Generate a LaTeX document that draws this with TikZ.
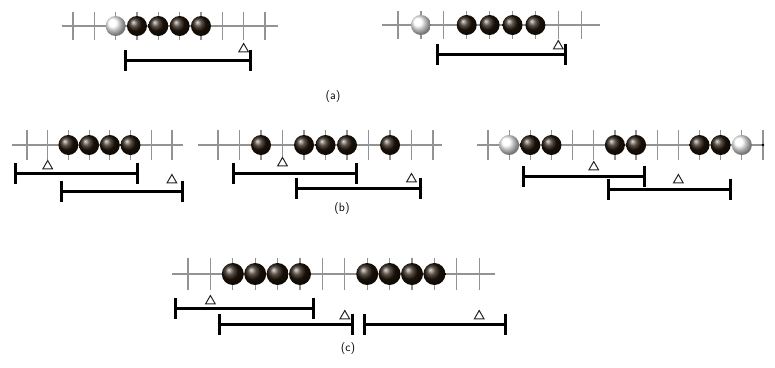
\documentclass[tikz,border=0pt]{standalone}
\usetikzlibrary{shapes.geometric, arrows.meta}

\begin{document}
\begin{tikzpicture}[x=1pt,y=-1pt,
      board/.style={draw=gray!85, line width=1.1pt},
      tick/.style={draw=gray!85, line width=1.2pt},
      black stone/.style={circle, inner sep=0pt, minimum size=20pt, shading=ball, ball color=black!82!brown},
      white stone/.style={circle, inner sep=0pt, minimum size=20pt, shading=ball, ball color=white},
      tri/.style={regular polygon, regular polygon sides=3, draw=black!85, fill=white, inner sep=0pt, minimum size=11pt, line width=1pt},
      bar/.style={line width=3pt, {Bar[width=21pt]}-{Bar[width=21pt]}},
      caption/.style={font=\sffamily\large}]
    \useasboundingbox (0,0) rectangle (775,367);

    % (a) left
    \draw[board] (62,26) -- (278,26);
    \foreach \i in {0,...,9}
        \draw[tick] (73+\i*21.33,12) -- ++(0,28);
    \node[white stone] (al2) at (73+2*21.33,26) {};
    \foreach \i in {3,...,6}
        \node[black stone] (al\i) at (73+\i*21.33,26) {};
    \node[tri] (alt) at (73+8*21.33,49) {};
    \coordinate (alb1) at (124,60);
    \coordinate (alb2) at (252,60);
    \draw[bar] (alb1) -- (alb2);

    % (a) right
    \draw[board] (382,25) -- (600,25);
    \foreach \i in {0,...,8}
        \draw[tick] (398+\i*22.9,11) -- ++(0,28);
    \node[white stone] (ar1) at (398+22.9,25) {};
    \foreach \i in {3,...,6}
        \node[black stone] (ar\i) at (398+\i*22.9,25) {};
    \node[tri] (art) at (398+7*22.9,46) {};
    \coordinate (arb1) at (436,54);
    \coordinate (arb2) at (567,54);
    \draw[bar] (arb1) -- (arb2);

    \node[caption] (capa) at (333,97) {(a)};

    % (b) left
    \draw[board] (12,145) -- (183,145);
    \foreach \i in {0,...,7}
        \draw[tick] (27+\i*20.7,130) -- ++(0,30);
    \foreach \i in {2,...,5}
        \node[black stone] (bl\i) at (27+\i*20.7,145) {};
    \node[tri] (blt1) at (27+20.7,166) {};
    \node[tri] (blt2) at (27+7*20.7,180) {};
    \coordinate (blb1) at (14,173);
    \coordinate (blb2) at (139,173);
    \coordinate (blb3) at (60,191);
    \coordinate (blb4) at (184,191);
    \draw[bar] (blb1) -- (blb2);
    \draw[bar] (blb3) -- (blb4);

    % (b) middle
    \draw[board] (198,145) -- (442,145);
    \foreach \i in {0,...,10}
        \draw[tick] (218+\i*21.5,130) -- ++(0,30);
    \foreach \i in {2,4,5,6,8}
        \node[black stone] (bm\i) at (218+\i*21.5,145) {};
    \node[tri] (bmt1) at (218+3*21.5,163) {};
    \node[tri] (bmt2) at (218+9*21.5,179) {};
    \coordinate (bmb1) at (232,173);
    \coordinate (bmb2) at (358,173);
    \coordinate (bmb3) at (295,188);
    \coordinate (bmb4) at (422,188);
    \draw[bar] (bmb1) -- (bmb2);
    \draw[bar] (bmb3) -- (bmb4);

    % (b) right
    \draw[board] (477,145) -- (763,145);
    \foreach \i in {0,...,13}
        \draw[tick] (488+\i*21.15,130) -- ++(0,30);
    \foreach \i in {1,12}
        \node[white stone] (br\i) at (488+\i*21.15,145) {};
    \foreach \i in {2,3,6,7,10,11}
        \node[black stone] (br\i) at (488+\i*21.15,145) {};
    \fill (763,145) circle (1.4pt);
    \node[tri] (brt1) at (488+5*21.15,167) {};
    \node[tri] (brt2) at (488+9*21.15,180) {};
    \coordinate (brb1) at (522,176);
    \coordinate (brb2) at (646,176);
    \coordinate (brb3) at (607,189);
    \coordinate (brb4) at (732,189);
    \draw[bar] (brb1) -- (brb2);
    \draw[bar] (brb3) -- (brb4);

    \node[caption] (capb) at (342,209) {(b)};

    % (c)
    \draw[board] (172,274) -- (495,274);
    \foreach \i in {0,...,13}
        \draw[tick] (188+\i*22.4,258) -- ++(0,32);
    \foreach \i in {2,3,4,5,8,9,10,11}
        \node[black stone, minimum size=22pt] (c\i) at (188+\i*22.4,274) {};
    \node[tri] (ct1) at (188+22.4,301) {};
    \node[tri] (ct2) at (188+7*22.4,316) {};
    \node[tri] (ct3) at (188+13*22.4,316) {};
    \coordinate (cb1) at (174,308);
    \coordinate (cb2) at (315,308);
    \coordinate (cb3) at (218,324);
    \coordinate (cb4) at (354,324);
    \coordinate (cb5) at (363,324);
    \coordinate (cb6) at (507,324);
    \draw[bar] (cb1) -- (cb2);
    \draw[bar] (cb3) -- (cb4);
    \draw[bar] (cb5) -- (cb6);

    \node[caption] (capc) at (348,348) {(c)};
\end{tikzpicture}
\end{document}
